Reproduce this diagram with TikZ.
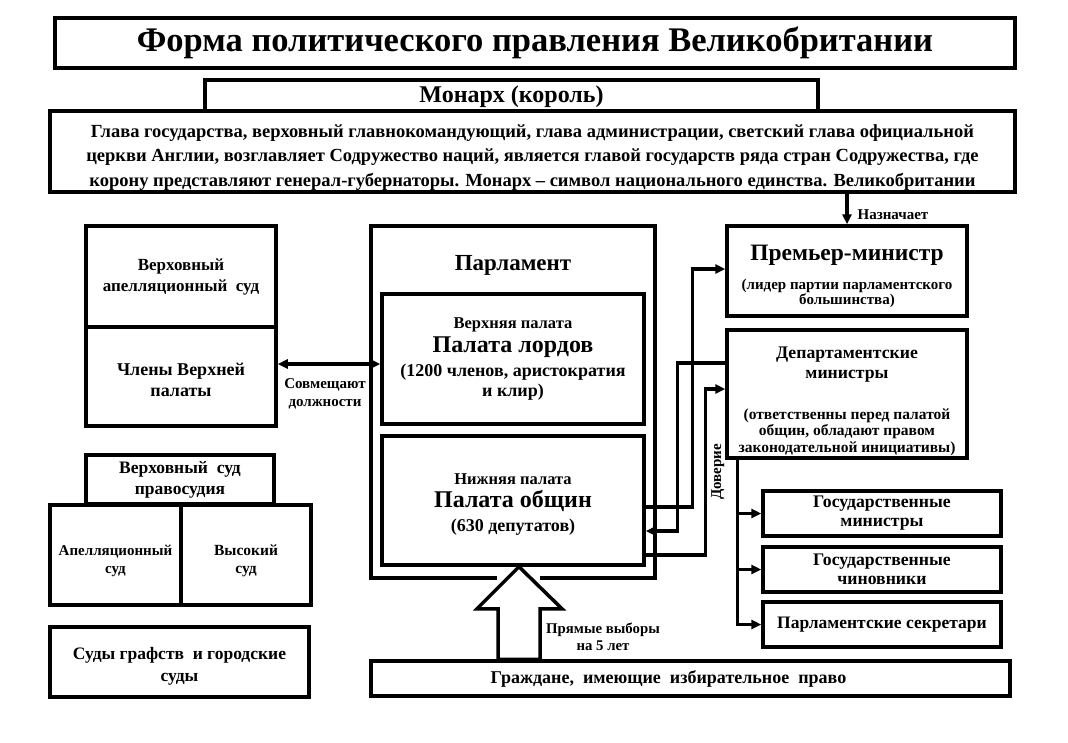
\documentclass[tikz,border=0pt]{standalone}
\usepackage{fontspec}
\setmainfont{Liberation Serif}
\usepackage{tikz}
\usetikzlibrary{arrows.meta,calc,positioning}
\newcommand{\sz}[2]{\fontsize{#1}{#2}\selectfont}
\tikzstyle{block} = [rectangle, draw=black, line width=3.5pt, fill=white, align=center, font=\bfseries, inner sep=2pt]
\tikzstyle{arrow} = [line width=3.2pt, -{Triangle[length=10pt,width=9pt]}]
\tikzstyle{both} = [line width=3.2pt, {Triangle[length=10pt,width=9pt]}-{Triangle[length=10pt,width=9pt]}]
\tikzstyle{note} = [align=center, font=\bfseries\sz{15}{18}, inner sep=1pt]

\begin{document}
\begin{tikzpicture}[x=1pt, y=-1pt]

\fill[white] (0,0) rectangle (1068,742);
\useasboundingbox (0,0) rectangle (1068,742);

% monarch
\node(title) [block, minimum width=960, minimum height=50, font=\bfseries\sz{34.5}{38}] at (535,43) {Форма политического правления Великобритании};
\node(monarch) [block, minimum width=613, minimum height=33, font=\bfseries\sz{24}{26}] at (511.5,96.5) {Монарх (король)};
\node(desc) [block, minimum width=965, minimum height=77, font=\bfseries\sz{18.5}{24.5}] at (532.5,151.5) {\rule{0pt}{24pt}Глава государства, верховный главнокомандующий, глава администрации, светский глава официальной\\церкви Англии, возглавляет Содружество наций, является главой государств ряда стран Содружества, где\\корону представляют генерал-губернаторы. Монарх -- символ национального единства. Великобритании};

% courts
\node(supappeal) [block, minimum width=190, minimum height=101, font=\bfseries\sz{17}{21}] at (181,276.5) {Верховный\\апелляционный\ \ суд};
\node(members) [block, minimum width=190, minimum height=99, font=\bfseries\sz{18}{20.5}] at (181,376.5) {\rule{0pt}{19pt}Члены Верхней\\палаты};
\node(supjustice) [block, minimum width=188, minimum height=49, font=\bfseries\sz{17.5}{21}] at (180,479.5) {Верховный\ \ суд\\правосудия};
\node(appeal) [block, minimum width=131, minimum height=100, font=\bfseries\sz{15}{18}] at (115.5,555) {\rule{0pt}{22pt}Апелляционный\\суд};
\node(high) [block, minimum width=130, minimum height=100, font=\bfseries\sz{15.5}{18}] at (246,555) {\rule{0pt}{22pt}Высокий\\суд};
\node(county) [block, minimum width=259, minimum height=70, font=\bfseries\sz{17.5}{22}] at (179.5,662) {\rule{0pt}{20pt}Суды графств\ \ и городские\\суды};

% parliament
\node(parl) [minimum width=284, minimum height=352] at (513,402) {};
\node(parltitle) [font=\bfseries\sz{23}{26}] at (513,265) {Парламент};
\node(upper) [block, minimum width=262, minimum height=130, font=\bfseries\sz{16.5}{24}] at (513,359) {Верхняя палата\\\sz{24}{24}Палата лордов\\\sz{18}{20}(1200 членов, аристократия\\[-4pt]\sz{18}{20}и клир)};
\node(lower) [block, minimum width=262, minimum height=129, font=\bfseries\sz{16.5}{23.5}] at (513,500.5) {\rule{0pt}{18pt}Нижняя палата\\\sz{24}{24}Палата общин\\\sz{18}{20}(630 депутатов)};

% government
\node(pm) [block, minimum width=240, minimum height=90, font=\bfseries\sz{15}{15}] at (847,271) {\rule{0pt}{26pt}\sz{23.5}{26}Премьер-министр\\[12pt](лидер партии парламентского\\большинства)};
\node(dept) [block, minimum width=240, minimum height=128, font=\bfseries\sz{15.5}{16.5}] at (847,394) {\rule{0pt}{26pt}\sz{17.7}{20}Департаментские\\[3.5pt]\sz{17.7}{20}министры\\[24.5pt](ответственны перед палатой\\общин, обладают правом\\законодательной инициативы)};
\node(gm) [block, minimum width=238, minimum height=45, font=\bfseries\sz{17.7}{19}] at (882,513.5) {Государственные\\министры};
\node(gch) [block, minimum width=238, minimum height=45, font=\bfseries\sz{17.7}{19}] at (882,569.5) {Государственные\\чиновники};
\node(ps) [block, minimum width=238, minimum height=45, font=\bfseries\sz{17.5}{19}] at (882,624.5) {Парламентские секретари};

\node(cit) [block, minimum width=639, minimum height=35, font=\bfseries\sz{18}{20}] at (690.5,678.5) {Граждане,\ \ имеющие\ \ избирательное\ \ право\hspace*{44pt}};

% frame of parliament with the gap for the elections arrow
\coordinate (tip) at ([xshift=6]lower.south);
\draw[line width=3.5pt] ($(parl.south -| tip)+(-22,0)$) -- (parl.south west) -- (parl.north west) -- (parl.north east) -- (parl.south east) -- ($(parl.south -| tip)+(21,0)$);
\draw[line width=3.5pt, fill=white, line join=miter] (tip) -- ($(tip)+(43,42)$) -- ($(tip)+(21,42)$) -- ($(tip |- cit.north)+(21,0)$) -- ($(tip |- cit.north)+(-21,0)$) -- ($(tip)+(-21,42)$) -- ($(tip)+(-42,42)$) -- cycle;
\node(elect) [note, font=\bfseries\sz{14.8}{17}] at (603,637) {Прямые выборы\\на 5 лет};

% connectors
\draw [arrow] (pm.north |- desc.south) -- node(appoint)[pos=0.7, right=8pt, note] {Назначает} (pm.north);
\draw [both] ([yshift=12.5]members.east) -- node(combine)[below=12pt, xshift=-4pt, note] {Совмещают\\должности} ([yshift=12.5]members.east -| upper.west);

\draw [arrow] ([yshift=-6.5]lower.east) -- ++(47,0) |- ([yshift=2]pm.west);
\draw [arrow] ([yshift=31]dept.west) -- ++(-48,0) |- ([yshift=-30.5]lower.east);
\draw [arrow] ([yshift=-54.5]lower.east) -- ++(60,0) |- node(trust)[pos=0.25, rotate=90, anchor=north, note, inner sep=4pt] {Доверие} ([yshift=5]dept.west);

\coordinate (trunk) at ([xshift=12]dept.south west);
\foreach \b in {gm,gch,ps}
  \draw [arrow] (trunk) |- (\b.west);

\end{tikzpicture}
\end{document}
